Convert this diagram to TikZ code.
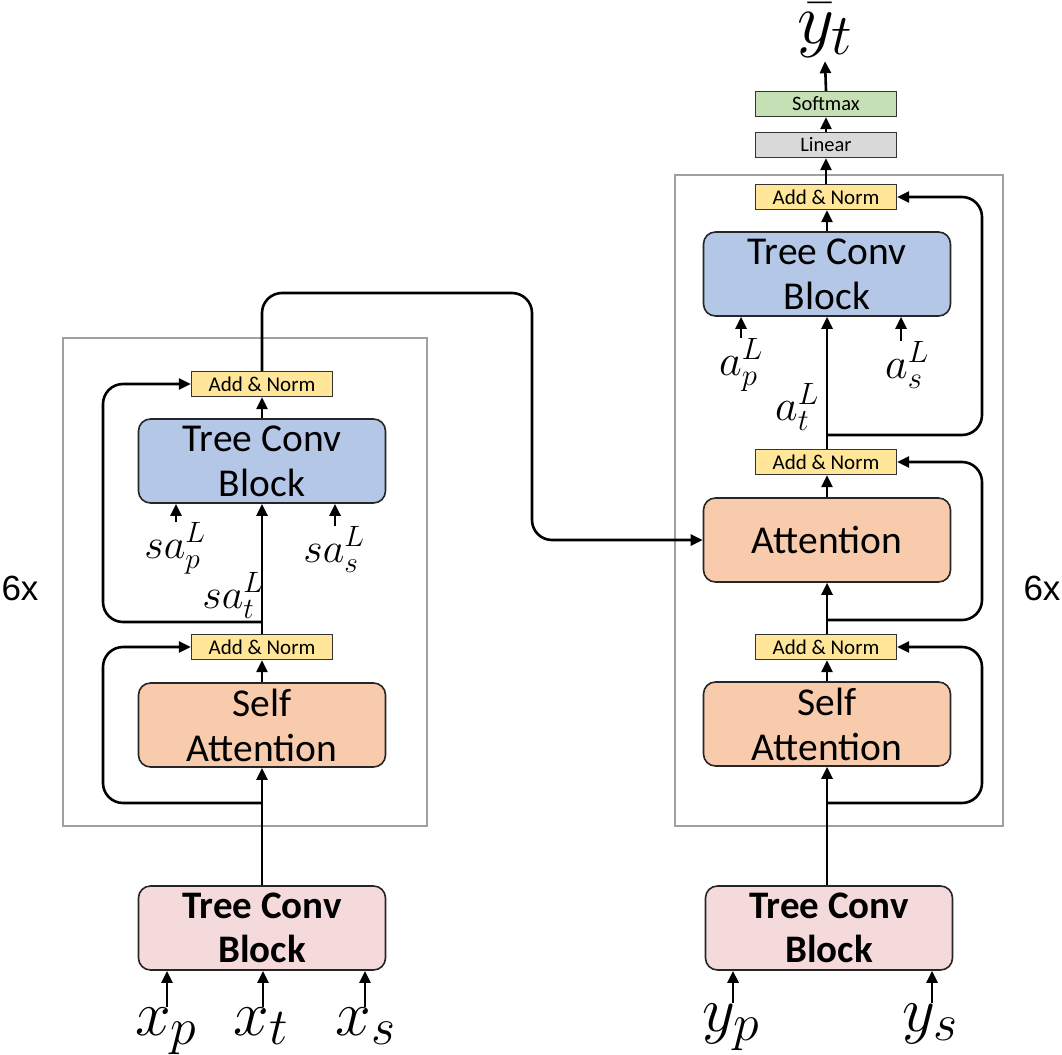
\RequirePackage{fix-cm}
\documentclass[tikz,border=0pt]{standalone}
\usepackage{fontspec}
\setmainfont{Carlito}
\newfontfamily\arialf{Liberation Sans}
\usetikzlibrary{arrows.meta,calc}
\DeclareMathSizes{64}{64}{52}{40}
\DeclareMathSizes{72}{72}{58}{45}
\definecolor{cblue}{HTML}{B4C7E7}
\definecolor{corange}{HTML}{F8CBAD}
\definecolor{cpink}{HTML}{F5DADB}
\definecolor{cyellow}{HTML}{FFE699}
\definecolor{cgreen}{HTML}{C5E0B4}
\definecolor{cgray}{HTML}{D9D9D9}
\definecolor{cframe}{HTML}{A0A0A0}
\begin{document}
\begin{tikzpicture}[x=1pt,y=-1pt,
  blk/.style={draw=black!85, line width=1.6pt, rounded corners=12pt, minimum width=247pt, minimum height=84pt, inner sep=0pt, align=center, font=\fontsize{39.5}{45}\selectfont},
  an/.style={draw=black!80, line width=1.3pt, fill=cyellow, minimum width=141pt, minimum height=25pt, inner sep=0pt, font=\fontsize{21}{22}\selectfont},
  top/.style={draw=black!80, line width=1.3pt, minimum width=141pt, minimum height=25pt, inner sep=0pt, font=\fontsize{20.5}{22}\selectfont},
  arr/.style={line width=2.6pt, -{Triangle[length=12pt,width=11pt]}},
  ml/.style={inner sep=0pt, anchor=base},
  frm/.style={draw=cframe, line width=1.6pt},
  six/.style={font=\arialf\fontsize{35}{35}\selectfont}]
\useasboundingbox (0,0) rectangle (1062,1054);

% frames
\draw[frm] (63,338) rectangle (427,826);
\draw[frm] (675,175) rectangle (1003,826);
\node[six] (sixl) at (20,588) {6x};
\node[six] (sixr) at (1042,588) {6x};

% ---------------- encoder ----------------
\node[blk, fill=cpink, font=\fontsize{39}{44}\selectfont\bfseries] (eIn) at (262,928) {Tree Conv\\Block};
\node[blk, fill=corange] (eSA) at (262,725) {Self\\Attention};
\node[an] (eAN1) at (262,647) {Add \& Norm};
\node[blk, fill=cblue] (eTC) at (262,461) {Tree Conv\\Block};
\node[an] (eAN2) at (262,384) {Add \& Norm};

\node[ml] (xp) at (166,1035) {\fontsize{64}{70}\selectfont$x_p$};
\node[ml] (xt) at (261,1035) {\fontsize{64}{70}\selectfont$x_t$};
\node[ml] (xs) at (366,1035) {\fontsize{64}{70}\selectfont$x_s$};
\draw[arr] ([xshift=1pt]xp.north) -- ([xshift=1pt]xp.north |- eIn.south);
\draw[arr] ([xshift=2pt]xt.north) -- ([xshift=2pt]xt.north |- eIn.south);
\draw[arr] ([xshift=-1pt]xs.north) -- ([xshift=-1pt]xs.north |- eIn.south);

\node[ml] (sap) at (175,558) {\fontsize{42}{50}\selectfont$sa_p^L$};
\node[ml] (sas) at (334,562) {\fontsize{42}{50}\selectfont$sa_s^L$};
\node[ml] (sat) at (233,608) {\fontsize{42}{50}\selectfont$sa_t^L$};
\draw[arr] ([xshift=1pt]sap.north) -- ([xshift=1pt]sap.north |- eTC.south);
\draw[arr] ([xshift=1pt]sas.north) -- ([xshift=1pt]sas.north |- eTC.south);

\draw[arr] (eIn.north) -- (eSA.south);
\draw[arr] (eSA.north) -- (eAN1.south);
\draw[arr] (eAN1.north) -- (eTC.south);
\draw[arr] (eTC.north) -- (eAN2.south);

\coordinate (eJ1) at (262,803);
\coordinate (eJ2) at (262,622);
\coordinate (lx) at (103,0);
\draw[arr, rounded corners=20pt] (eJ1) -| (lx |- eAN1.west) -- (eAN1.west);
\draw[arr, rounded corners=20pt] (eJ2) -| (lx |- eAN2.west) -- (eAN2.west);

% ---------------- decoder ----------------
\node[blk, fill=cpink, font=\fontsize{39}{44}\selectfont\bfseries] (dIn) at (829,928) {Tree Conv\\Block};
\node[blk, fill=corange] (dSA) at (827,724) {Self\\Attention};
\node[an] (dAN1) at (826,647) {Add \& Norm};
\node[blk, fill=corange] (dAtt) at (827,540) {Attention};
\node[an] (dAN2) at (826,462) {Add \& Norm};
\node[blk, fill=cblue] (dTC) at (827,274) {Tree Conv\\Block};
\node[an] (dAN3) at (826,197) {Add \& Norm};
\node[top, fill=cgray] (dLin) at (826,145) {Linear};
\node[top, fill=cgreen] (dSM) at (826,104) {Softmax};
\node[ml] (ybar) at (825,44) {\fontsize{72}{80}\selectfont$\bar{y}_t$};

\node[ml] (yp) at (731,1031) {\fontsize{64}{70}\selectfont$y_p$};
\node[ml] (ys) at (930,1031) {\fontsize{64}{70}\selectfont$y_s$};
\draw[arr] ([xshift=2pt]yp.north) -- ([xshift=2pt]yp.north |- dIn.south);
\draw[arr] ([xshift=2pt]ys.north) -- ([xshift=2pt]ys.north |- dIn.south);

\node[ml] (ap) at (741,375) {\fontsize{44}{50}\selectfont$a_p^L$};
\node[ml] (as) at (907,378) {\fontsize{44}{50}\selectfont$a_s^L$};
\node[ml] (at) at (797,420) {\fontsize{44}{50}\selectfont$a_t^L$};
\draw[arr] (ap.north) -- (ap.north |- dTC.south);
\draw[arr] ([xshift=-6pt]as.north) -- ([xshift=-6pt]as.north |- dTC.south);

\draw[arr] (dIn.north -| dSA) -- (dSA.south);
\draw[arr] (dSA.north) -- (dSA.north |- dAN1.south);
\draw[arr] (dAN1.north -| dAtt) -- (dAtt.south);
\draw[arr] (dAtt.north) -- (dAtt.north |- dAN2.south);
\draw[arr] (dAN2.north -| dTC) -- (dTC.south);
\draw[arr] (dTC.north) -- (dTC.north |- dAN3.south);
\draw[arr] (dAN3.north) -- (dLin.south);
\draw[arr] (dLin.north) -- (dSM.south);
\draw[arr] (dSM.north) -- ([yshift=-3pt]ybar.south);

\coordinate (dJ1) at (827,803);
\coordinate (dJ2) at (827,620);
\coordinate (dJ3) at (827,435);
\coordinate (rx) at (982,0);
\draw[arr, rounded corners=20pt] (dJ1) -| (rx |- dAN1.east) -- (dAN1.east);
\draw[arr, rounded corners=20pt] (dJ2) -| (rx |- dAN2.east) -- (dAN2.east);
\draw[arr, rounded corners=20pt] (dJ3) -| (rx |- dAN3.east) -- (dAN3.east);

% cross connection
\coordinate (cx) at (532,293);
\draw[arr, rounded corners=20pt] (eAN2.north) |- (cx) |- (dAtt.west);
\end{tikzpicture}
\end{document}
